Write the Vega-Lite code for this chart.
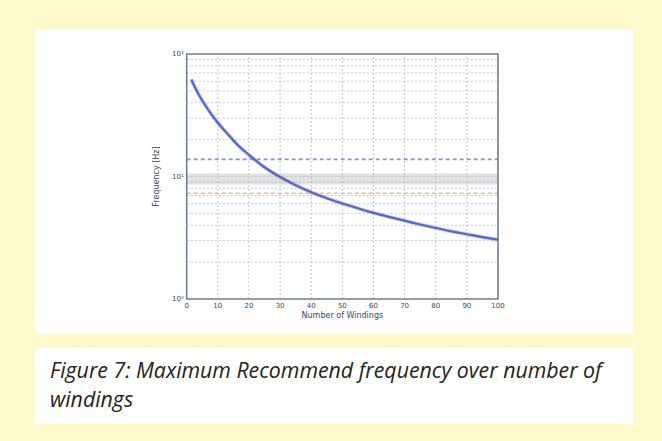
{
  "$schema": "https://vega.github.io/schema/vega-lite/v6.json",
  "background": "#FFF9CC",
  "padding": {"left": 35, "top": 30, "right": 29, "bottom": 17},
  "spacing": 15,
  "datasets": {
    "curve": [
      {"n": 1.5, "f": 62}, {"n": 2, "f": 58}, {"n": 4, "f": 46}, {"n": 6, "f": 38},
      {"n": 8, "f": 32}, {"n": 10, "f": 27.5}, {"n": 13, "f": 22.5}, {"n": 16, "f": 18.5},
      {"n": 20, "f": 15}, {"n": 25, "f": 11.9}, {"n": 30, "f": 9.9}, {"n": 35, "f": 8.5},
      {"n": 40, "f": 7.45}, {"n": 45, "f": 6.65}, {"n": 50, "f": 6.02}, {"n": 55, "f": 5.5},
      {"n": 60, "f": 5.05}, {"n": 65, "f": 4.68}, {"n": 70, "f": 4.36}, {"n": 75, "f": 4.06},
      {"n": 80, "f": 3.8}, {"n": 85, "f": 3.57}, {"n": 90, "f": 3.38}, {"n": 95, "f": 3.2},
      {"n": 100, "f": 3.05}
    ],
    "vgrid": [{"n": 10}, {"n": 20}, {"n": 30}, {"n": 40}, {"n": 50}, {"n": 60}, {"n": 70}, {"n": 80}, {"n": 90}],
    "hgrid": [{"f": 2}, {"f": 3}, {"f": 4}, {"f": 5}, {"f": 6}, {"f": 7}, {"f": 8}, {"f": 9}, {"f": 10},
              {"f": 20}, {"f": 30}, {"f": 40}, {"f": 50}, {"f": 60}, {"f": 70}, {"f": 80}, {"f": 90}],
    "xlabels": [{"n": 0, "t": "0"}, {"n": 10, "t": "10"}, {"n": 20, "t": "20"}, {"n": 30, "t": "30"}, {"n": 40, "t": "40"},
                {"n": 50, "t": "50"}, {"n": 60, "t": "60"}, {"n": 70, "t": "70"}, {"n": 80, "t": "80"}, {"n": 90, "t": "90"}, {"n": 100, "t": "100"}],
    "ylabels": [{"f": 1, "t": "10⁰"}, {"f": 10, "t": "10¹"}, {"f": 100, "t": "10²"}],
    "limits": [{"f": 13.8, "kind": "upper"}, {"f": 7.3, "kind": "lower"}],
    "caption": [
      {"line": 1, "text": "Figure 7: Maximum Recommend frequency over number of"},
      {"line": 2, "text": "windings"}
    ]
  },
  "vconcat": [
    {
      "width": 598,
      "height": 303,
      "layer": [
        {
          "data": {"name": "vgrid"},
          "mark": {"type": "rule", "color": "#b9c3d3", "strokeWidth": 1, "strokeDash": [2, 2]},
          "encoding": {
            "x": {"field": "n", "type": "quantitative", "scale": {"domain": [-48.73, 143.37], "nice": false, "zero": false}},
            "y": {"datum": 1, "type": "quantitative", "scale": {"type": "log", "domain": [0.5277, 157.1], "nice": false}},
            "y2": {"datum": 100}
          }
        },
        {
          "data": {"name": "hgrid"},
          "mark": {"type": "rule", "color": "#c3cad6", "strokeWidth": 1, "strokeDash": [2, 2]},
          "encoding": {
            "x": {"datum": 0, "type": "quantitative"},
            "x2": {"datum": 100},
            "y": {"field": "f", "type": "quantitative"}
          }
        },
        {
          "data": {"values": [{"lo": 8.6, "hi": 10.6}]},
          "mark": {"type": "rect", "color": "#c4c4c4", "opacity": 0.5},
          "encoding": {
            "x": {"datum": 0, "type": "quantitative"},
            "x2": {"datum": 100},
            "y": {"field": "lo", "type": "quantitative"},
            "y2": {"field": "hi"}
          }
        },
        {
          "data": {"name": "limits"},
          "mark": {"type": "rule", "strokeWidth": 1.6, "strokeDash": [4, 3]},
          "encoding": {
            "x": {"datum": 0, "type": "quantitative"},
            "x2": {"datum": 100},
            "y": {"field": "f", "type": "quantitative"},
            "color": {"field": "kind", "type": "nominal", "scale": {"domain": ["upper", "lower"], "range": ["#7b95e6", "#f3b58c"]}, "legend": null}
          }
        },
        {
          "data": {"values": [{"a": 1}]},
          "mark": {"type": "rect", "fill": null, "fillOpacity": 0, "stroke": "#6f7d95", "strokeWidth": 1.6},
          "encoding": {
            "x": {"datum": 0, "type": "quantitative"},
            "x2": {"datum": 100},
            "y": {"datum": 1, "type": "quantitative"},
            "y2": {"datum": 100}
          }
        },
        {
          "data": {"name": "curve"},
          "mark": {"type": "line", "color": "#f08a8a", "strokeWidth": 4, "opacity": 0.5, "interpolate": "monotone"},
          "encoding": {
            "x": {"field": "n", "type": "quantitative"},
            "y": {"field": "f", "type": "quantitative"}
          }
        },
        {
          "data": {"name": "curve"},
          "mark": {"type": "line", "color": "#3e6fd6", "strokeWidth": 2.2, "interpolate": "monotone"},
          "encoding": {
            "x": {"field": "n", "type": "quantitative"},
            "y": {"field": "f", "type": "quantitative"}
          }
        },
        {
          "data": {"name": "xlabels"},
          "mark": {"type": "text", "fontSize": 7, "font": "DejaVu Sans", "color": "#3c4658", "baseline": "top", "dy": 3},
          "encoding": {
            "x": {"field": "n", "type": "quantitative"},
            "y": {"datum": 1, "type": "quantitative"},
            "text": {"field": "t"}
          }
        },
        {
          "data": {"name": "ylabels"},
          "mark": {"type": "text", "fontSize": 7, "font": "DejaVu Sans", "color": "#3c4658", "align": "right", "baseline": "middle", "dx": -3},
          "encoding": {
            "x": {"datum": 0, "type": "quantitative"},
            "y": {"field": "f", "type": "quantitative"},
            "text": {"field": "t"}
          }
        },
        {
          "data": {"values": [{"t": "Number of Windings"}]},
          "mark": {"type": "text", "fontSize": 8, "font": "DejaVu Sans", "color": "#3c4658", "baseline": "top", "dy": 13},
          "encoding": {
            "x": {"datum": 50, "type": "quantitative"},
            "y": {"datum": 1, "type": "quantitative"},
            "text": {"field": "t"}
          }
        },
        {
          "data": {"values": [{"t": "Frequency [Hz]"}]},
          "mark": {"type": "text", "fontSize": 8, "font": "DejaVu Sans", "color": "#3c4658", "angle": 270, "align": "center", "baseline": "middle"},
          "encoding": {
            "x": {"datum": -9.5, "type": "quantitative"},
            "y": {"datum": 10, "type": "quantitative"},
            "text": {"field": "t"}
          }
        }
      ]
    },
    {
      "width": 598,
      "height": 76,
      "data": {"name": "caption"},
      "mark": {"type": "text", "font": "Open Sans", "fontStyle": "italic", "fontSize": 21.3, "color": "#222222", "align": "left", "baseline": "alphabetic"},
      "encoding": {
        "x": {"datum": 0, "type": "quantitative", "scale": {"domain": [-15, 583], "nice": false, "zero": false}},
        "y": {"field": "line", "type": "quantitative", "scale": {"domain": [-0.0345, 2.586], "reverse": true, "nice": false, "zero": false}},
        "text": {"field": "text"}
      }
    }
  ],
  "config": {
    "view": {"fill": "white", "stroke": null},
    "axis": {"disable": true}
  }
}
